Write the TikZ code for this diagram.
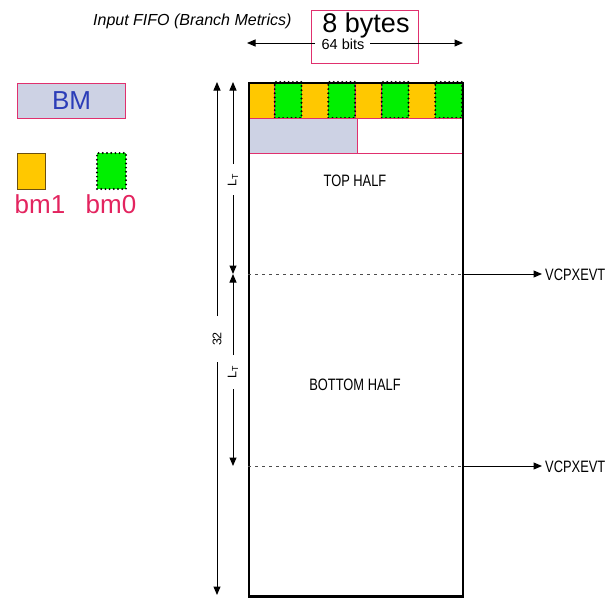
\documentclass[tikz,border=0pt]{standalone}
\usepackage{fontspec}
\setmainfont{Liberation Sans}
\newfontfamily\narrowf[FakeStretch=0.78]{Liberation Sans}
\usetikzlibrary{arrows.meta}
\definecolor{pinkb}{HTML}{E0306E}
\definecolor{bmfill}{HTML}{CDD2E4}
\definecolor{bmblue}{HTML}{2B3DB8}
\definecolor{orangec}{HTML}{FFC800}
\definecolor{greenc}{HTML}{00F000}
\definecolor{labred}{HTML}{E3245F}
\definecolor{bm1border}{HTML}{6B5010}
\begin{document}
\begin{tikzpicture}[x=1pt,y=-1pt,
  cell/.style={minimum width=26.75pt, minimum height=36pt, inner sep=0pt, outer sep=0pt, anchor=north west},
  ocell/.style={cell, fill=orangec, draw=pinkb, line width=0.6pt},
  gcell/.style={cell, fill=greenc, draw=black, line width=2.2pt, dash pattern=on 0pt off 4.2pt, line cap=round},
  arr/.style={-{Triangle[length=8.5pt,width=7pt]}, line width=1pt},
  lab/.style={font=\fontsize{12.5}{12.5}\selectfont, rotate=90, inner sep=0pt},
  half/.style={font=\narrowf\fontsize{16.5}{16.5}\selectfont, anchor=base, inner sep=0pt},
  vcp/.style={font=\narrowf\fontsize{16.5}{16.5}\selectfont, anchor=base west, inner sep=0pt},
  pbox/.style={draw=pinkb, line width=1pt, inner sep=0pt, anchor=north west},
  legtext/.style={text=labred, font=\fontsize{26}{26}\selectfont, anchor=base, inner sep=0pt}]
\useasboundingbox (0,0) rectangle (607,598);

% title and width
\node[font=\itshape\fontsize{16}{16}\selectfont, anchor=base west, inner sep=0pt] (title) at (93,25) {Input FIFO (Branch Metrics)};
\node[pbox, minimum width=107pt, minimum height=53pt] (bytesbox) at (311,10) {};
\node[font=\fontsize{27}{27}\selectfont, anchor=base, inner sep=0pt] (bytes) at (366,32) {8 bytes};
\node[font=\fontsize{14.5}{14.5}\selectfont, anchor=base, inner sep=0pt] (bits) at (343,49.5) {64 bits};
\coordinate (wl0) at (315,43); \coordinate (wl1) at (247,43);
\coordinate (wr0) at (370,43); \coordinate (wr1) at (463,43);
\draw[arr] (wl0) -- (wl1);
\draw[arr] (wr0) -- (wr1);

% legend
\node[pbox, fill=bmfill, minimum width=108pt, minimum height=35pt, text=bmblue, font=\fontsize{26}{26}\selectfont] (bm) at (17,83) {BM};
\node[cell, fill=orangec, draw=bm1border, line width=1pt, minimum width=28pt] (lbm1) at (17,153) {};
\node[gcell, minimum width=29pt] (lbm0) at (97,153) {};
\node[legtext] (tbm1) at (40,213) {bm1};
\node[legtext] (tbm0) at (111,213) {bm0};

% FIFO cells
\foreach \i in {0,2,4,6} \node[ocell] (c\i) at (248+\i*26.75, 82) {};
\foreach \i in {1,3,5,7} \node[gcell] (c\i) at (248+\i*26.75, 82) {};
\node[pbox, line width=0.8pt, fill=bmfill, minimum width=109pt, minimum height=35pt] (bmhalf) at (248,118) {};
\node[pbox, line width=0.8pt, minimum width=105pt, minimum height=35pt] (freehalf) at (357,118) {};

% FIFO outline
\node[draw, line width=1.6pt, minimum width=214pt, minimum height=513pt, inner sep=0pt, anchor=north west] (fifo) at (248,82) {};
\draw[line width=3pt] (fifo.south west) -- (fifo.south east);

\node[half] (top) at (355,186) {TOP HALF};
\node[half] (bottom) at (355,390) {BOTTOM HALF};

% events
\coordinate (d1) at (248,274); \coordinate (e1) at (462,274);
\coordinate (d2) at (248,466); \coordinate (e2) at (462,466);
\node[vcp] (v1) at (545,280) {VCPXEVT};
\node[vcp] (v2) at (545,472) {VCPXEVT};
\draw[dash pattern=on 3pt off 4pt, line width=0.9pt, black!70] (d1) -- (e1);
\draw[dash pattern=on 3pt off 4pt, line width=0.9pt, black!70] (d2) -- (e2);
\draw[arr] (e1) -- ([xshift=-3pt]v1.west |- e1);
\draw[arr] (e2) -- ([xshift=-3pt]v2.west |- e2);

% left dimension arrows
\node[lab] (n32) at (217,339) {32};
\coordinate (o0) at (217,316); \coordinate (o1) at (217,82);
\coordinate (o2) at (217,362); \coordinate (o3) at (217,595);
\draw[arr] (o0) -- (o1);
\draw[arr] (o2) -- (o3);

\node[lab] (lt1) at (233,180) {L\textsubscript{T}};
\node[lab] (lt2) at (233,372) {L\textsubscript{T}};
\coordinate (i0) at (233,164); \coordinate (i1) at (233,82);
\coordinate (i2) at (233,195); \coordinate (i3) at (233,274);
\coordinate (i4) at (233,355); \coordinate (i5) at (233,389);
\coordinate (i6) at (233,466);
\draw[arr] (i0) -- (i1);
\draw[arr] (i2) -- (i3);
\draw[arr] (i4) -- (i3);
\draw[arr] (i5) -- (i6);
\end{tikzpicture}
\end{document}
